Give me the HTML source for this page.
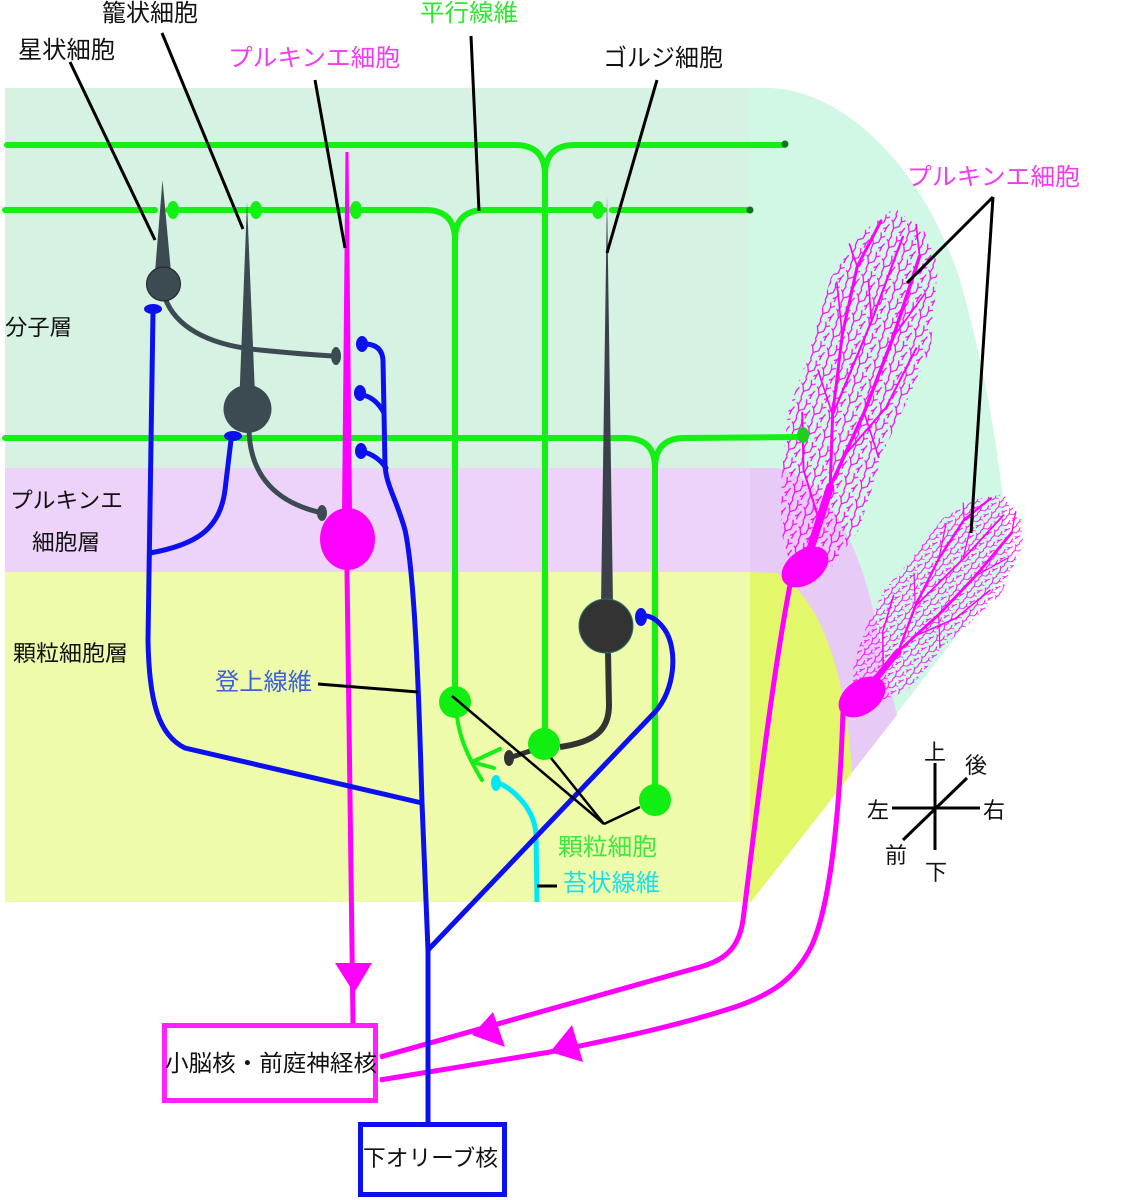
<!DOCTYPE html>
<html><head><meta charset="utf-8">
<style>html,body{margin:0;padding:0;background:#fff;}svg{display:block;}</style>
</head>
<body>
<svg width="1134" height="1200" viewBox="0 0 1134 1200" xmlns="http://www.w3.org/2000/svg" font-family="'Liberation Sans','Noto Sans CJK JP',sans-serif">
<defs>
<pattern id="den" width="16" height="20" patternUnits="userSpaceOnUse">
<path d="M3 20 L4 14 L2 8 L4 2 L3 0 M4 14 L9 11 L10 6 L9 1 M2 8 L0 6 M12 20 L13 15 L15 11 M13 15 L10 17 M10 6 L14 4" stroke="#ff00ff" stroke-width="1.2" fill="none"/>
</pattern>
<g id="tree">
<path d="M-15 5 L-32 -25 L-45 -80 L-54 -143 L-48 -202 L-45 -283 L-25 -335 L0 -366 L35 -350 L56 -321 L69 -239 L58 -177 L49 -131 L43 -44 L25 0 Z" fill="url(#den)"/>
<g stroke="#ff00ff" fill="none" stroke-linecap="round" stroke-linejoin="round">
<path d="M0 0 L5 -80" stroke-width="8"/>
<path d="M5 -80 L-10 -150 L-20 -230 L-22 -300 L-10 -350" stroke-width="3"/>
<path d="M5 -80 L20 -160 L30 -240 L36 -325" stroke-width="3.5"/>
<path d="M-10 -150 L5 -250 L15 -340" stroke-width="2.2"/>
<path d="M12 -115 L40 -170 L55 -235" stroke-width="2"/>
<path d="M2 -45 L-25 -90 L-40 -145" stroke-width="2"/>
<path d="M-20 -230 L-38 -280 M30 -240 L50 -290 M20 -160 L45 -120 M-10 -150 L-35 -190 M-22 -300 L-35 -320 M5 -250 L-8 -290 M36 -325 L25 -355" stroke-width="1.6"/>
</g>
</g>
</defs>

<!-- right 3D region -->
<path d="M750 88 L770 88 C840 90 920 160 960 280 C985 370 1000 450 1010 567 L750 903 Z" fill="#d0f8e5"/>
<path d="M750 468 L775 468 C820 472 860 540 875 620 L897 715 L750 903 Z" fill="#e7cbf6"/>
<path d="M750 572 L777 573 C810 590 845 650 852 773 L750 903 Z" fill="#e3f76b"/>

<!-- left panel layers -->
<rect x="5" y="88" width="745" height="380" fill="#d6f2e3"/>
<rect x="5" y="468" width="745" height="104" fill="#edd3f9"/>
<rect x="5" y="572" width="745" height="330" fill="#eefbaa"/>

<!-- right Purkinje trees -->
<use href="#tree" transform="translate(806,563) rotate(14)"/>
<use href="#tree" transform="translate(865,692) rotate(35) scale(0.8,0.66)"/>
<ellipse cx="805" cy="567" rx="26" ry="17" transform="rotate(-35 805 567)" fill="#ff00ff"/>
<ellipse cx="862" cy="697" rx="26" ry="17" transform="rotate(-35 862 697)" fill="#ff00ff"/>

<!-- parallel fibers -->
<g stroke="#14f014" stroke-width="6" fill="none" stroke-linecap="round">
<path d="M7 145 L515 145 Q545 145 545 175 L545 743 M785 145 L575 145 Q545 145 545 175"/>
<path d="M5 210 L155 210 M168 210 L425 210 Q455 210 455 240 L455 700 M604 210 L485 210 Q455 210 455 240 M612 210 L750 210"/>
<path d="M5 438 L625 438 Q655 438 655 468 L655 800 M800 437 L685 438 Q655 438 655 468"/>
</g>
<g fill="#14f014">
<ellipse cx="173" cy="210" rx="6" ry="9"/>
<ellipse cx="256" cy="210" rx="6" ry="9"/>
<ellipse cx="356" cy="210" rx="6" ry="9"/>
<ellipse cx="598" cy="210" rx="6" ry="9"/>
<ellipse cx="803" cy="435" rx="6" ry="8" fill="#22cc22"/>
</g>
<circle cx="785" cy="144" r="3.5" fill="#1a6a2a"/>
<circle cx="750" cy="210" r="3.5" fill="#1a6a2a"/>

<!-- stellate cell -->
<path d="M165 298 C175 325 205 345 260 350 C290 353 315 355 333 356" stroke="#3c4a52" stroke-width="5" fill="none"/>
<ellipse cx="336" cy="356" rx="5" ry="9" fill="#3c4a52"/>
<polygon points="162.5,180 155,272 171,272" fill="#3c4a52"/>
<circle cx="163.5" cy="284" r="17" fill="#3c4a52" stroke="#222" stroke-width="1"/>

<!-- basket cell -->
<path d="M249 430 C250 470 270 500 318 512" stroke="#3c4a52" stroke-width="5" fill="none"/>
<ellipse cx="322" cy="513" rx="5" ry="8" fill="#3c4a52"/>
<polygon points="247,202 239.5,395 255,395" fill="#3c4a52"/>
<circle cx="247.5" cy="409" r="24" fill="#3c4a52"/>

<!-- golgi cell -->
<polygon points="607,195 601,605 613,605" fill="#3a4148"/>
<path d="M608 652 L609 705 C609 730 595 742 560 747" stroke="#333" stroke-width="6" fill="none"/>
<path d="M545 746 L512 757" stroke="#333" stroke-width="5" fill="none"/>
<ellipse cx="509" cy="758" rx="5" ry="8" fill="#333"/>
<circle cx="606" cy="626" r="27" fill="#333" stroke="#2a7070" stroke-width="1"/>

<!-- granule cells -->
<g stroke="#14f014" stroke-width="4" fill="none" stroke-linecap="round">
<path d="M457 716 Q460 745 482 780"/>
<path d="M472 762 L500 749 M472 762 L494 768"/>
</g>
<g fill="#11ee11">
<circle cx="455" cy="702" r="16"/>
<circle cx="544" cy="744" r="16"/>
<circle cx="655" cy="800" r="16"/>
</g>

<!-- mossy fiber -->
<path d="M537 902 L536 835 C535 810 515 790 497 782" stroke="#00e8f8" stroke-width="5" fill="none"/>
<ellipse cx="496" cy="783" rx="5" ry="8" fill="#00e8f8"/>

<!-- left Purkinje cell -->
<polygon points="345.5,152 348.5,152 352,515 342,515" fill="#ff00ff"/>
<ellipse cx="347.5" cy="539" rx="27.5" ry="31" fill="#ff00ff"/>
<path d="M347 570 L353 1023" stroke="#ff00ff" stroke-width="5" fill="none"/>
<polygon points="335,963 372,963 354,993" fill="#ff00ff"/>

<!-- right Purkinje axons -->
<g stroke="#ff00ff" stroke-width="5" fill="none">
<path d="M790 585 C770 690 752 850 743 920 C739 948 725 960 700 967 L380 1057"/>
<path d="M843 712 C840 800 832 900 812 945 C795 980 770 995 735 1007 C680 1025 620 1038 550 1052 L380 1080"/>
</g>
<polygon points="472,1035 493,1012 505,1047" fill="#ff00ff"/>
<polygon points="550,1052 572,1025 583,1062" fill="#ff00ff"/>

<!-- climbing fibers -->
<g stroke="#0c10ee" stroke-width="5" fill="none" stroke-linecap="round">
<path d="M153 312 L148 640 C149 700 158 735 185 748 L422 803"/>
<path d="M150 553 C195 545 220 530 225 490 L231 440"/>
<path d="M428 1122 L428 950 L422 803 C419 700 415 575 405 530 C396 498 386 485 385 465 L383 360 Q382 345 366 344"/>
<path d="M363 395 Q376 398 384 413"/>
<path d="M364 452 Q378 456 386 468"/>
<path d="M428 950 L655 712 C675 690 678 650 665 630 C658 620 650 615 643 616"/>
</g>
<g fill="#0c10ee">
<ellipse cx="153" cy="309" rx="9" ry="5"/>
<ellipse cx="233" cy="436" rx="9" ry="5"/>
<ellipse cx="362" cy="344" rx="6" ry="8"/>
<ellipse cx="360" cy="393" rx="6" ry="8"/>
<ellipse cx="361" cy="451" rx="6" ry="8"/>
<ellipse cx="641" cy="617" rx="6" ry="9"/>
</g>

<!-- boxes -->
<rect x="164.5" y="1025.5" width="211" height="75" fill="none" stroke="#ff22ff" stroke-width="5"/>
<rect x="360.5" y="1124.5" width="144" height="70" fill="none" stroke="#0c10ee" stroke-width="5"/>

<!-- pointer lines -->
<g stroke="#000" stroke-width="3" fill="none">
<line x1="70" y1="62" x2="155" y2="240"/>
<line x1="162" y1="33" x2="243" y2="229"/>
<line x1="315" y1="80" x2="345" y2="248"/>
<line x1="471" y1="36" x2="479" y2="211"/>
<line x1="657" y1="80" x2="607" y2="253"/>
<line x1="993" y1="197" x2="907" y2="283"/>
<line x1="993" y1="197" x2="971" y2="533"/>
<line x1="318" y1="684" x2="418" y2="692"/>
<line x1="537" y1="886" x2="557" y2="886"/>
</g>
<g stroke="#000" stroke-width="2.5" fill="none">
<line x1="452" y1="696" x2="604" y2="824"/>
<line x1="551" y1="758" x2="604" y2="824"/>
<line x1="604" y1="824" x2="640" y2="807"/>
</g>

<!-- compass -->
<g stroke="#000" stroke-width="3">
<line x1="935" y1="763" x2="935" y2="850"/>
<line x1="892" y1="808" x2="980" y2="808"/>
<line x1="903" y1="840" x2="967" y2="778"/>
</g>

<!-- labels -->
<g font-size="24" fill="#111">
<text x="102" y="21" textLength="96" lengthAdjust="spacingAndGlyphs">籠状細胞</text>
<text x="18" y="58" textLength="97" lengthAdjust="spacingAndGlyphs">星状細胞</text>
<text x="228" y="66" textLength="172" lengthAdjust="spacingAndGlyphs" fill="#f23cf2">プルキンエ細胞</text>
<text x="420" y="21" textLength="98" lengthAdjust="spacingAndGlyphs" fill="#2de82d">平行線維</text>
<text x="603" y="66" textLength="120" lengthAdjust="spacingAndGlyphs">ゴルジ細胞</text>
<text x="907" y="185" textLength="173" lengthAdjust="spacingAndGlyphs" fill="#f23cf2">プルキンエ細胞</text>
<text x="215" y="690" textLength="97" lengthAdjust="spacingAndGlyphs" fill="#3d5fe0">登上線維</text>
<text x="558" y="855" textLength="99" lengthAdjust="spacingAndGlyphs" fill="#3de83d">顆粒細胞</text>
<text x="563" y="891" textLength="97" lengthAdjust="spacingAndGlyphs" fill="#19e0ec">苔状線維</text>
</g>
<g font-size="22" fill="#111">
<text x="5" y="335" textLength="67" lengthAdjust="spacingAndGlyphs">分子層</text>
<text x="10" y="508" textLength="113" lengthAdjust="spacingAndGlyphs">プルキンエ</text>
<text x="32" y="550" textLength="68" lengthAdjust="spacingAndGlyphs">細胞層</text>
<text x="13" y="661" textLength="115" lengthAdjust="spacingAndGlyphs">顆粒細胞層</text>
<text x="165" y="1071" font-size="23" textLength="212" lengthAdjust="spacingAndGlyphs">小脳核・前庭神経核</text>
<text x="363" y="1166" font-size="22.5" textLength="135" lengthAdjust="spacingAndGlyphs">下オリーブ核</text>
<text x="924" y="760">上</text>
<text x="925" y="880">下</text>
<text x="867" y="818">左</text>
<text x="983" y="818">右</text>
<text x="965" y="773">後</text>
<text x="885" y="863">前</text>
</g>
</svg>
</body></html>
